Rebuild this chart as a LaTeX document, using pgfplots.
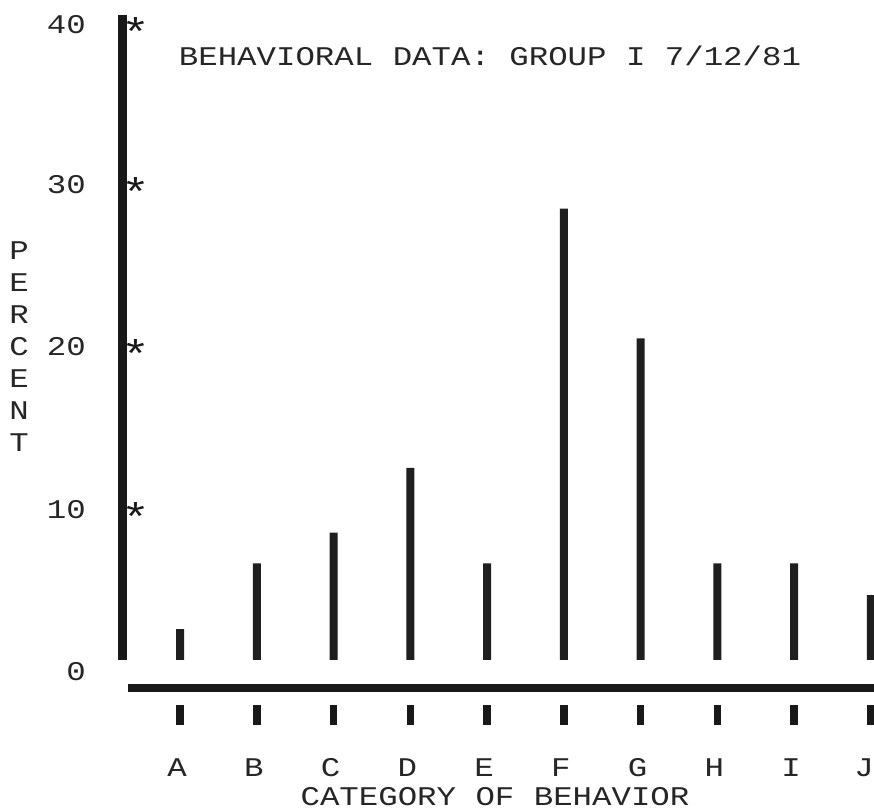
\documentclass[border=0pt]{standalone}
\usepackage{pgfplots}
\pgfplotsset{compat=1.18}
\usepackage{pgfplotstable}
\usepackage{fontspec}
\newfontfamily\dm[FakeStretch=1.2]{Liberation Mono}
\pgfplotstableread{
x y
0 2.65
1 6.7
2 8.6
3 12.6
4 6.7
5 28.6
6 20.6
7 6.7
8 6.7
9 4.75
}\behav
\begin{document}
\begin{tikzpicture}
\tikzset{dm/.style={font=\dm\fontsize{27}{32}\selectfont, text=black!85, inner sep=0pt},
  star/.style={font=\dm\fontsize{40}{44}\selectfont, text=black!90, inner sep=0pt}}
\useasboundingbox (0,0) rectangle (874pt,-809pt);
\begin{axis}[
  at={(122.44pt,-728.7pt)}, anchor=south west,
  x=76.75pt, y=16.2pt,
  xmin=-0.75, xmax=9.05, ymin=-3.5, ymax=41,
  hide axis, clip=false]
\addplot[ybar, bar width=8pt, fill=black!88, draw=none] table[x=x,y=y]{\behav};
\fill[white] (axis cs:-0.6,-0.1) rectangle (axis cs:9.5,0.74);
\draw[black!90, line width=9pt] (axis cs:-0.75,0.74) -- (axis cs:-0.75,40.56);
\draw[black!90, line width=8pt] (axis cs:-0.678,-0.99) -- (axis cs:9.05,-0.99);
\pgfplotsinvokeforeach{0,...,9}{\draw[black!90, line width=7.5pt] (axis cs:#1,-2.04) -- (axis cs:#1,-3.27);}
\end{axis}
% y tick labels
\node[dm, anchor=base east] at (86pt,-33pt) {40};
\node[dm, anchor=base east] at (86pt,-193pt) {30};
\node[dm, anchor=base east] at (86pt,-355.5pt) {20};
\node[dm, anchor=base east] at (86pt,-518pt) {10};
\node[dm, anchor=base east] at (86pt,-680pt) {0};
% stars
\foreach \yy in {25,185,347.5,510} {\node[star, anchor=base] at (136pt,{-(\yy+21)*1pt}) {*};}
% y label
\foreach \l/\yy in {P/250,E/282,R/314,C/346,E/378,N/410,T/442} {\node[dm, anchor=base] at (19pt,{-(\yy+9)*1pt}) {\l};}
% category labels
\foreach \l/\xx in {A/177,B/253.75,C/330.5,D/407.25,E/484,F/560.75,G/637.5,H/714.25,I/791,J/864} {\node[dm, anchor=base] at (\xx pt,-776pt) {\l};}
\node[dm, anchor=base] at (495pt,-805pt) {CATEGORY OF BEHAVIOR};
\node[dm, anchor=base] at (490pt,-65pt) {BEHAVIORAL DATA: GROUP I 7/12/81};
\end{tikzpicture}
\end{document}
